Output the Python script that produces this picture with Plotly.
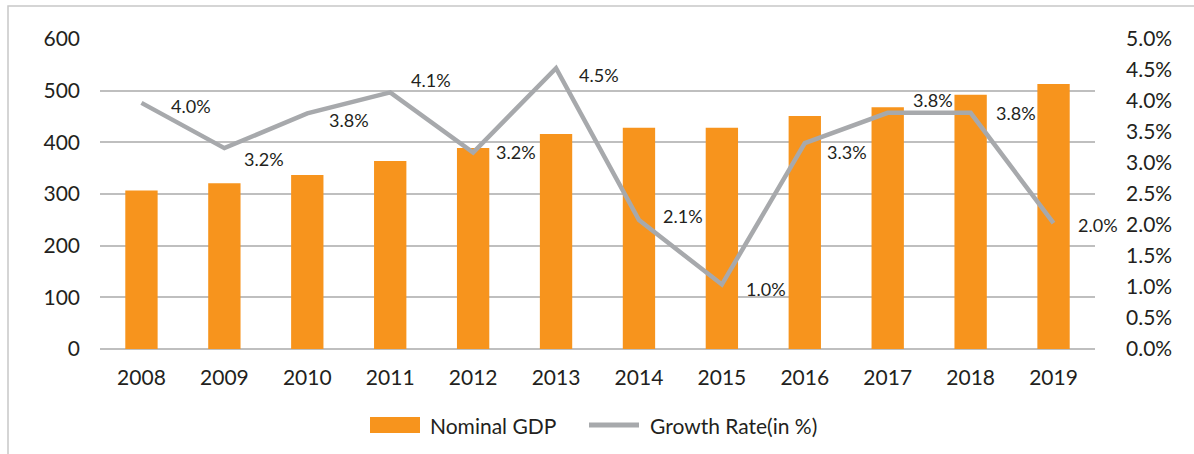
import plotly.graph_objects as go

years = ["2008", "2009", "2010", "2011", "2012", "2013", "2014", "2015", "2016", "2017", "2018", "2019"]
nominal_gdp = [307, 321, 337, 364, 389, 416, 428, 428, 451, 468, 492, 513]
growth_rate = [3.97, 3.24, 3.80, 4.14, 3.17, 4.53, 2.08, 1.04, 3.32, 3.81, 3.81, 2.03]
series_names = ["Nominal GDP", "Growth Rate(in %)"]

# label offsets (px) for the growth data labels: (xshift, yshift)
label_offsets = [(28, -3), (18, -11), (20, -7), (19, 12), (21, 0), (21, -7),
                 (22, 4), (22, -4), (20, -9), (23, 13), (23, 0), (22, -2)]

FONT = "Lato"
TXT = "#231f20"
ORANGE = "#f7941d"
GREY = "#a7a9ac"
GRID = "#bfbfbf"
AX = 21

L, R, T, B = 100, 99, 39, 105
W, H = 1194, 454
pw, ph = W - L - R, H - T - B


def px(x):
    return (x - L) / pw


def py(y):
    return (H - B - y) / ph


fig = go.Figure()
fig.add_trace(go.Bar(x=years, y=nominal_gdp, name=series_names[0],
                     marker=dict(color=ORANGE, line=dict(width=0)), yaxis="y"))
fig.add_trace(go.Scatter(x=years, y=growth_rate, name=series_names[1], mode="lines",
                         line=dict(color=GREY, width=4.5), yaxis="y2"))

for i, (g, (dx, dy)) in enumerate(zip(growth_rate, label_offsets)):
    fig.add_annotation(x=i, xref="x", y=g, yref="y2", text=f"{g:.1f}%", showarrow=False,
                       xanchor="left", yanchor="middle", xshift=dx, yshift=dy,
                       font=dict(family=FONT, size=18, color=TXT))

# outer frame
fig.add_shape(type="rect", xref="paper", yref="paper",
              x0=px(8), x1=px(W + 20), y0=py(H + 20), y1=py(6),
              line=dict(color="#c8c8c8", width=1.5), fillcolor="rgba(0,0,0,0)", layer="below")

# legend (drawn manually to match the wide swatches)
fig.add_shape(type="rect", xref="paper", yref="paper",
              x0=px(370), x1=px(420), y0=py(433), y1=py(417),
              fillcolor=ORANGE, line=dict(width=0))
fig.add_annotation(xref="paper", yref="paper", x=px(428), y=py(425), text=series_names[0],
                   showarrow=False, xanchor="left", yanchor="middle",
                   font=dict(family=FONT, size=AX, color=TXT))
fig.add_shape(type="line", xref="paper", yref="paper",
              x0=px(589), x1=px(639), y0=py(425), y1=py(425),
              line=dict(color=GREY, width=5))
fig.add_annotation(xref="paper", yref="paper", x=px(648), y=py(425), text=series_names[1],
                   showarrow=False, xanchor="left", yanchor="middle",
                   font=dict(family=FONT, size=AX, color=TXT))

fig.update_layout(
    width=W, height=H,
    margin=dict(l=L, r=R, t=T, b=B),
    paper_bgcolor="white", plot_bgcolor="white",
    font=dict(family=FONT, size=AX, color=TXT),
    bargap=0.61,
    showlegend=False,
    xaxis=dict(type="category", range=[-0.5, len(years) - 0.5], showgrid=False,
               showline=False, ticks="", ticklabelstandoff=14, tickfont=dict(size=AX)),
    yaxis=dict(range=[0, 600], dtick=100, showgrid=True, gridcolor=GRID, gridwidth=1.5,
               zeroline=True, zerolinecolor=GRID, zerolinewidth=1.5, showline=False,
               ticks="", ticklabelstandoff=19, tickfont=dict(size=AX)),
    yaxis2=dict(range=[0, 5], dtick=0.5, tickformat=".1f", ticksuffix="%", overlaying="y",
                side="right", showgrid=False, zeroline=False, showline=False, ticks="",
                ticklabelstandoff=30, tickfont=dict(size=AX)),
    hovermode=False,
)

fig.write_html("out.html", post_script="document.body.style.margin='0';",
               config={"displayModeBar": False})
